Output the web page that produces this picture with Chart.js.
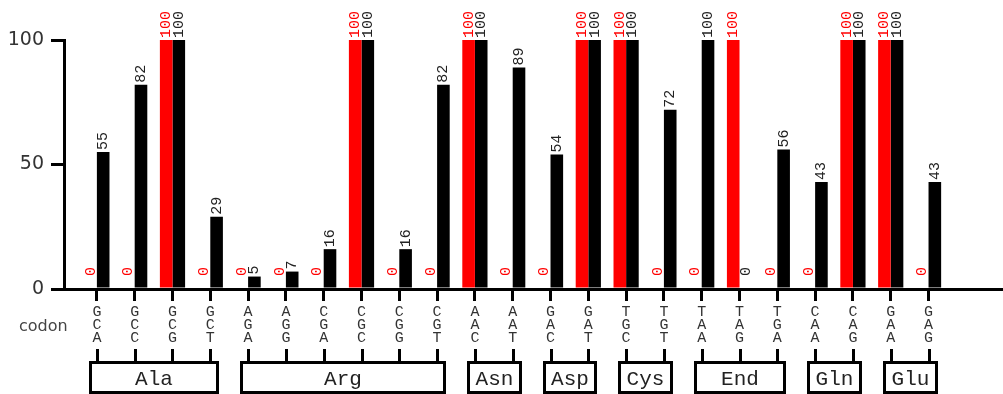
<!DOCTYPE html>
<html>
<head>
<meta charset="utf-8">
<script src="https://cdn.jsdelivr.net/npm/chart.js@4"></script>
<style>
  html, body { margin: 0; padding: 0; background: #fff; }
  canvas { display: block; }
</style>
</head>
<body>
<canvas id="codon-chart" width="1003" height="394"></canvas>
<script>
const codons = ["GCA", "GCC", "GCG", "GCT", "AGA", "AGG", "CGA", "CGC", "CGG", "CGT", "AAC", "AAT",
  "GAC", "GAT", "TGC", "TGT", "TAA", "TAG", "TGA", "CAA", "CAG", "GAA", "GAG"];
const aminoAcids = ["Ala", "Arg", "Asn", "Asp", "Cys", "End", "Gln", "Glu"];
const codonsPerAminoAcid = [4, 6, 2, 2, 2, 3, 2, 2];
const redValues = [0, 0, 100, 0, 0, 0, 0, 100, 0, 0, 100, 0, 0, 100, 100, 0, 0, 100, 0, 0, 100, 100, 0];
const blackValues = [55, 82, 100, 29, 5, 7, 16, 100, 16, 82, 100, 89, 54, 100, 100, 72, 100, 0, 56, 43, 100, 100, 43];
const yTicks = [0, 50, 100];

const MONO = "'Courier New', 'Liberation Mono', monospace";

// rotated value labels above every bar (zero bars too, lifted off the axis)
const valueLabels = {
  id: "valueLabels",
  afterDatasetsDraw(chart) {
    const { ctx } = chart;
    const base = chart.scales.y.getPixelForValue(0);
    ctx.save();
    ctx.font = `15px ${MONO}`;
    ctx.textAlign = "left";
    ctx.textBaseline = "middle";
    chart.data.datasets.forEach((ds, i) => {
      ctx.fillStyle = ds.labelColor;
      chart.getDatasetMeta(i).data.forEach((bar, j) => {
        const top = Math.min(bar.y, base - 11);
        ctx.save();
        ctx.translate(bar.x, top - 2);
        ctx.rotate(-Math.PI / 2);
        ctx.fillText(String(ds.data[j].y), 0, 0);
        ctx.restore();
      });
    });
    ctx.restore();
  },
};

// "codon" caption plus the amino acid boxes under the codon letters
const codonGroups = {
  id: "codonGroups",
  afterDraw(chart) {
    const { ctx } = chart;
    const x = chart.scales.x;
    ctx.save();
    ctx.fillStyle = "#444";
    ctx.font = "16px 'DejaVu Sans', sans-serif";
    ctx.textBaseline = "middle";
    ctx.fillText("codon", 19, 327);

    ctx.strokeStyle = "#000";
    ctx.lineWidth = 3;
    ctx.font = `21px ${MONO}`;
    ctx.textAlign = "center";
    ctx.fillStyle = "#222";
    let start = 0;
    aminoAcids.forEach((name, g) => {
      const end = start + codonsPerAminoAcid[g] - 1;
      for (let i = start; i <= end; i++) {
        const px = Math.round(x.getPixelForValue(i)) + 0.5;
        ctx.beginPath();
        ctx.moveTo(px, 349);
        ctx.lineTo(px, 363);
        ctx.stroke();
      }
      const left = Math.round(x.getPixelForValue(start)) - 6.5;
      const right = Math.round(x.getPixelForValue(end)) + 7.5;
      ctx.strokeRect(left, 362.5, right - left, 30);
      ctx.fillText(name, (left + right) / 2, 379);
      start = end + 1;
    });
    ctx.restore();
  },
};

const cfg = {
  type: "bar",
  data: {
    datasets: [
      {
        data: redValues.map((v, i) => ({ x: i, y: v })),
        backgroundColor: "#ff0000",
        labelColor: "#ff0000",
      },
      {
        data: blackValues.map((v, i) => ({ x: i, y: v })),
        backgroundColor: "#000000",
        labelColor: "#222",
      },
    ],
  },
  options: {
    responsive: false,
    animation: false,
    devicePixelRatio: 1,
    categoryPercentage: 0.667,
    barPercentage: 1,
    layout: { padding: { top: 40, right: 0, bottom: 0, left: 0 } },
    plugins: {
      legend: { display: false },
      tooltip: { enabled: false },
    },
    scales: {
      x: {
        type: "linear",
        min: -0.87,
        max: 23.97,
        offset: false,
        afterBuildTicks: (axis) => {
          axis.ticks = codons.map((c, i) => ({ value: i }));
        },
        afterFit: (axis) => {
          axis.height = 105;
        },
        grid: {
          offset: false,
          drawOnChartArea: false,
          color: "#000",
          lineWidth: 3,
          tickLength: 12,
        },
        border: { color: "#000", width: 3 },
        ticks: {
          autoSkip: false,
          maxRotation: 0,
          padding: 5,
          color: "#333",
          font: { family: MONO, size: 15, lineHeight: "13px" },
          callback: (value) => codons[value].split(""),
        },
      },
      y: {
        min: 0,
        max: 100,
        afterBuildTicks: (axis) => {
          axis.ticks = yTicks.map((v) => ({ value: v }));
        },
        afterFit: (axis) => {
          axis.width = 64;
        },
        grid: {
          drawOnChartArea: false,
          color: "#000",
          lineWidth: 3,
          tickLength: 13,
        },
        border: { color: "#000", width: 3 },
        ticks: {
          padding: 7,
          color: "#333",
          font: { family: "'DejaVu Sans', sans-serif", size: 19 },
        },
      },
    },
  },
  plugins: [valueLabels, codonGroups],
};

const chart = new Chart(document.getElementById("codon-chart"), cfg);
</script>
</body>
</html>
